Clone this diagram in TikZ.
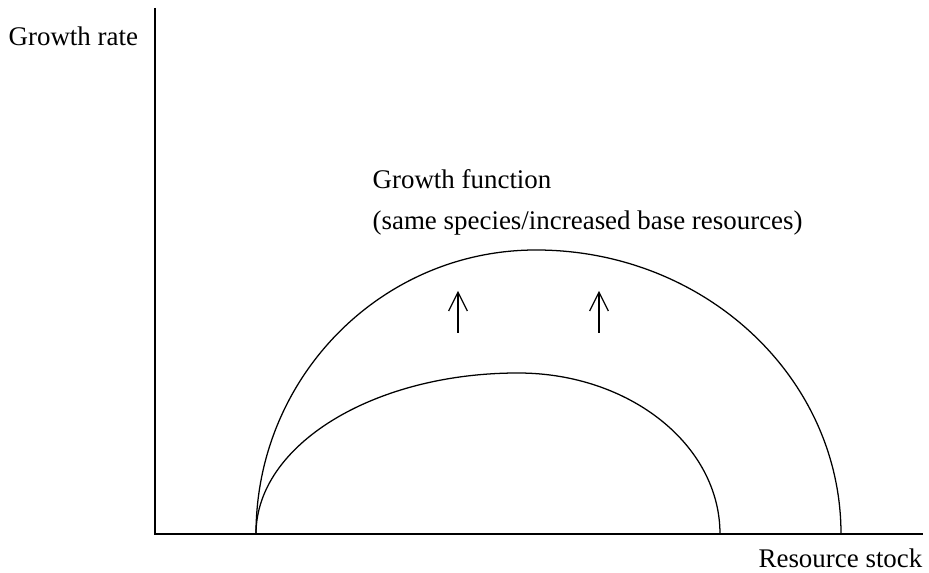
\documentclass[tikz,border=0pt]{standalone}
\usepackage{fontspec}
\setmainfont{Liberation Serif}
\usetikzlibrary{arrows.meta}
\begin{document}
\begin{tikzpicture}[x=0.75pt,y=0.75pt,line width=0.95pt,
  >={Straight Barb[length=14pt,width=14pt,line width=0.9pt]},
  font=\fontsize{20.2}{24}\selectfont]
  \useasboundingbox (0,0) rectangle (929,573);

  \coordinate (O) at (155,39);
  \coordinate (Y) at (155,565);
  \coordinate (X) at (923,39);
  \coordinate (S) at (256,39);
  \coordinate (A1) at (458,240);
  \coordinate (B1) at (458,282);
  \coordinate (A2) at (599,240);
  \coordinate (B2) at (599,282);

  % axes
  \draw (Y) -- (O) -- (X);

  % growth functions
  \draw (S) arc[start angle=180,end angle=90,x radius=262,y radius=161]
            arc[start angle=90,end angle=0,x radius=202,y radius=161];
  \draw (S) arc[start angle=180,end angle=90,x radius=280,y radius=284]
            arc[start angle=90,end angle=0,x radius=305,y radius=284];

  % shift
  \draw[->] (A1) -- (B1);
  \draw[->] (A2) -- (B2);

  % labels
  \node[anchor=base west,inner sep=0pt] (ylab) at (8,527) {Growth rate};
  \node[anchor=base east,inner sep=0pt] (xlab) at (923,5) {Resource stock};
  \node[anchor=base west,inner sep=0pt] (gf) at (372,384) {Growth function};
  \node[anchor=base west,inner sep=0pt] (gfnote) at (372,343) {(same species/increased base resources)};
\end{tikzpicture}
\end{document}
